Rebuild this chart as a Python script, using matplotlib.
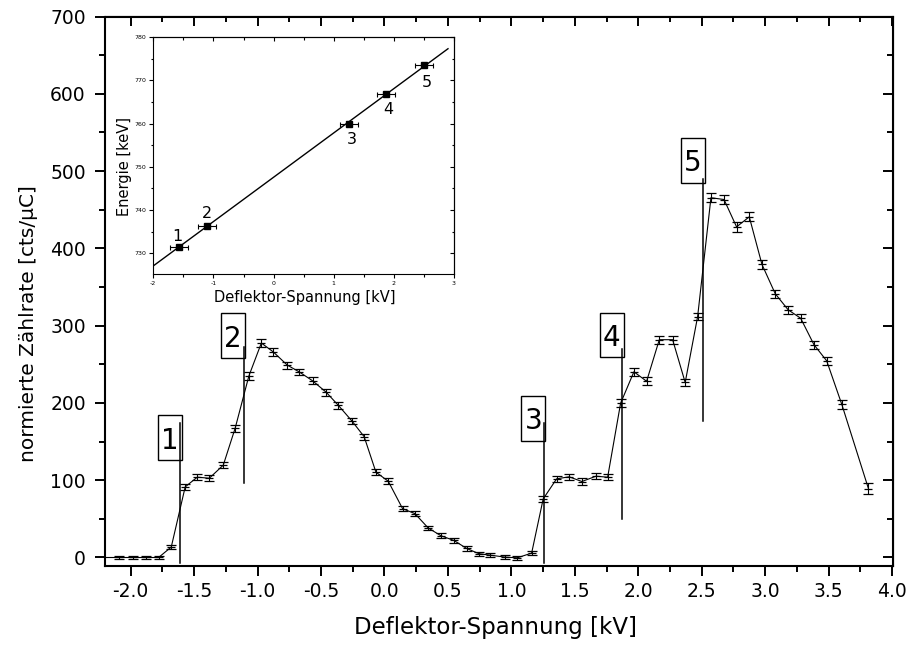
import matplotlib
matplotlib.use('Agg')
import matplotlib.pyplot as plt
from matplotlib.ticker import MultipleLocator, FormatStrFormatter
from matplotlib.patches import Rectangle
import numpy as np

plt.rcParams['font.family'] = ['DejaVu Sans']
plt.rcParams['axes.unicode_minus'] = False

# ---------------- main spectrum data ----------------
volt = [-2.30, -2.09, -1.98, -1.88, -1.78, -1.68, -1.57, -1.475, -1.38, -1.27,
        -1.176, -1.068, -0.97, -0.876, -0.766, -0.67, -0.566, -0.46, -0.364, -0.256,
        -0.16, -0.067, 0.03, 0.143, 0.24, 0.345, 0.445, 0.548, 0.648, 0.747,
        0.831, 0.95, 1.047, 1.16, 1.251, 1.357, 1.456, 1.556, 1.667, 1.759,
        1.861, 1.966, 2.066, 2.166, 2.271, 2.37, 2.468, 2.573, 2.676, 2.775,
        2.875, 2.975, 3.08, 3.182, 3.28, 3.385, 3.485, 3.604, 3.814]
rate = [0, 0, 0, 0, 0, 13.5, 91.4, 103.9, 102.6, 119.5,
        167.5, 235, 277.5, 266, 249, 240, 228.6, 214, 197, 176.6,
        156.4, 110.4, 98.7, 63.2, 56.8, 38.2, 28.2, 22, 11.7, 4.8,
        3.1, 0.5, -0.4, 5.7, 75.8, 101.8, 104.4, 98.3, 105.2, 103.9,
        199.6, 240.3, 228, 281.8, 281.8, 226.5, 311.7, 465.5, 463.2, 427.8,
        440.8, 379.2, 341.2, 320.4, 309.6, 275.3, 254.5, 198.2, 89.2]
rate_err = [2, 2.5, 2.5, 2.5, 2.5, 3, 4, 4, 4, 4,
            4.5, 5, 5, 5, 4.5, 4.5, 4.5, 4.5, 4.5, 4,
            4, 4, 4, 3.5, 3.5, 3, 3, 3, 3, 2.5,
            2.5, 2.5, 2.5, 3, 4, 4, 4, 4, 4, 4,
            5, 5, 5, 5, 5, 5, 5, 6, 6, 6,
            6, 5.5, 5.5, 5, 5, 5, 5, 6, 7]

# peak markers
peak_labels = ['1', '2', '3', '4', '5']
peak_volt = [-1.61, -1.11, 1.257, 1.874, 2.512]
line_top = [174, 273, 174, 270, 490]
line_bottom = [-7, 97, -7, 50, 176]
box_center = [155, 287, 180, 288, 514]

# ---------------- inset (calibration) data ----------------
cal_volt = [-1.58, -1.10, 1.254, 1.864, 2.50]
cal_energy = [731.4, 736.4, 759.9, 766.9, 773.5]
cal_volt_err = [0.15, 0.15, 0.15, 0.15, 0.15]
fit_slope = 10.26
fit_intercept = 747.6
fit_range = [-2.0, 2.9]

W, H = 910, 649
fig = plt.figure(figsize=(W / 100, H / 100), dpi=100)

L, R, T, B = 104.5, 893.3, 16.5, 566.0
ax = fig.add_axes([L / W, 1 - B / H, (R - L) / W, (B - T) / H])

ax.plot(volt, rate, color='black', lw=0.8, zorder=2)
ax.errorbar(volt, rate, yerr=rate_err, fmt='_', ms=6, mew=0.9, color='black',
            ecolor='black', elinewidth=0.8, capsize=3.6, capthick=0.8, zorder=3)

box_w = 0.19
box_h = 58
for lbl, pv, lt, lb, bc in zip(peak_labels, peak_volt, line_top, line_bottom, box_center):
    ax.plot([pv, pv], [lb, lt], color='black', lw=1.1, zorder=4)
    rect = Rectangle((pv + 0.012 - box_w, bc - box_h / 2), box_w, box_h,
                     facecolor='white', edgecolor='black', lw=1.0, zorder=3.5)
    ax.add_patch(rect)
    ax.text(pv + 0.012 - box_w / 2, bc, lbl, fontsize=20, ha='center',
            va='center_baseline', zorder=5)

ax.set_xlim(-2.206, 4.01)
ax.set_ylim(-11, 700)
ax.xaxis.set_major_locator(MultipleLocator(0.5))
ax.xaxis.set_minor_locator(MultipleLocator(0.25))
ax.xaxis.set_major_formatter(FormatStrFormatter('%.1f'))
ax.yaxis.set_major_locator(MultipleLocator(100))
ax.yaxis.set_minor_locator(MultipleLocator(50))
ax.tick_params(which='major', direction='out', length=7.5, width=1.4, labelsize=13.5)
ax.tick_params(which='minor', direction='out', length=4.5, width=1.4)
ax.tick_params(axis='x', pad=4)
ax.tick_params(axis='y', pad=6)
for s in ax.spines.values():
    s.set_linewidth(1.5)

sx = ax.secondary_xaxis('top')
sx.xaxis.set_major_locator(MultipleLocator(0.5))
sx.xaxis.set_minor_locator(MultipleLocator(0.25))
sx.tick_params(which='major', direction='in', length=7.5, width=1.4, labeltop=False)
sx.tick_params(which='minor', direction='in', length=4.5, width=1.4)
sy = ax.secondary_yaxis('right')
sy.yaxis.set_major_locator(MultipleLocator(100))
sy.yaxis.set_minor_locator(MultipleLocator(50))
sy.tick_params(which='major', direction='in', length=7.5, width=1.4, labelright=False)
sy.tick_params(which='minor', direction='in', length=4.5, width=1.4)

ax.set_xlabel('Deflektor-Spannung [kV]', fontsize=16.5)
ax.set_ylabel('normierte Zählrate [cts/µC]', fontsize=14.5)
ax.xaxis.set_label_coords((495.8 - L) / (R - L), (B - 616) / (B - T))
ax.yaxis.set_label_coords((38 - L) / (R - L), (B - 324) / (B - T))

# ---------------- inset ----------------
iL, iR, iT, iB = 153.3, 454.0, 37.3, 274.0
axin = fig.add_axes([iL / W, 1 - iB / H, (iR - iL) / W, (iB - iT) / H])
fx = np.array(fit_range)
axin.plot(fx, fit_slope * fx + fit_intercept, color='black', lw=1.0)
axin.errorbar(cal_volt, cal_energy, xerr=cal_volt_err, fmt='s', ms=4.5,
              color='black', ecolor='black', elinewidth=0.8, capsize=1.8, capthick=0.8)
offsets = [(-1, 9), (0, 10), (2, -10), (2, -10), (2, -11)]
for lbl, cx, cy, off in zip(peak_labels, cal_volt, cal_energy, offsets):
    axin.annotate(lbl, (cx, cy), xytext=off, textcoords='offset points',
                  ha='center', va='center_baseline', fontsize=11.5)
axin.set_xlim(-2, 3)
axin.set_ylim(725.2, 780)
axin.xaxis.set_major_locator(MultipleLocator(1))
axin.xaxis.set_minor_locator(MultipleLocator(0.5))
axin.yaxis.set_major_locator(MultipleLocator(10))
axin.yaxis.set_minor_locator(MultipleLocator(5))
axin.tick_params(which='major', direction='out', length=3, width=0.8, labelsize=4.5, pad=2)
axin.tick_params(which='minor', direction='out', length=1.8, width=0.8)
for s in axin.spines.values():
    s.set_linewidth(0.8)
isx = axin.secondary_xaxis('top')
isx.xaxis.set_major_locator(MultipleLocator(1))
isx.xaxis.set_minor_locator(MultipleLocator(0.5))
isx.tick_params(which='major', direction='in', length=3, width=0.8, labeltop=False)
isx.tick_params(which='minor', direction='in', length=1.8, width=0.8)
isy = axin.secondary_yaxis('right')
isy.yaxis.set_major_locator(MultipleLocator(10))
isy.yaxis.set_minor_locator(MultipleLocator(5))
isy.tick_params(which='major', direction='in', length=3, width=0.8, labelright=False)
isy.tick_params(which='minor', direction='in', length=1.8, width=0.8)
axin.set_xlabel('Deflektor-Spannung [kV]', fontsize=10.5)
axin.set_ylabel('Energie [keV]', fontsize=10.5)
axin.xaxis.set_label_coords((305 - iL) / (iR - iL), (iB - 290) / (iB - iT))
axin.yaxis.set_label_coords((132 - iL) / (iR - iL), (iB - 167) / (iB - iT))

fig.savefig('out.png', dpi=100)
